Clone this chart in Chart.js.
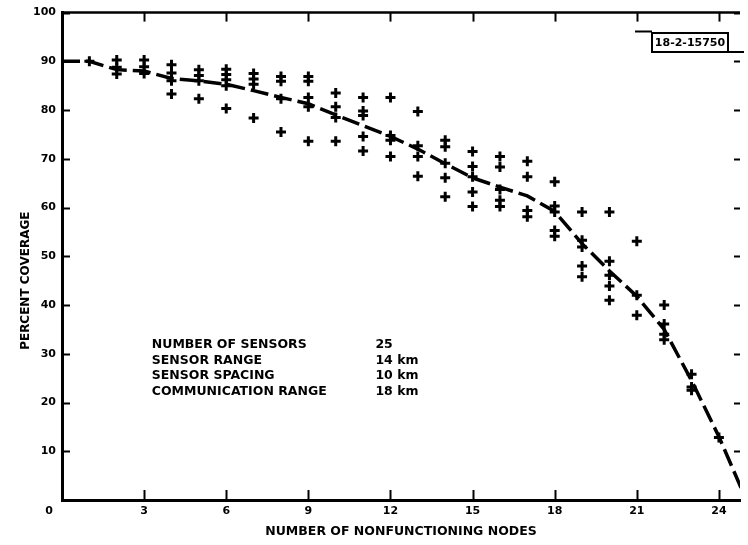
<!DOCTYPE html>
<html><head><meta charset="utf-8">
<script src="https://cdn.jsdelivr.net/npm/chart.js@4/dist/chart.umd.min.js"></script>
<style>html,body{margin:0;padding:0;background:#fff;}#wrap{width:748px;height:545px;}</style>
</head><body><div id="wrap"><canvas id="c" width="748" height="545"></canvas></div>
<script>
// ---- data ----
const xTicks = [3, 6, 9, 12, 15, 18, 21, 24];
const yTicks = [10, 20, 30, 40, 50, 60, 70, 80, 90, 100];
const trialNodes = [1,2,3,4,5,6,7,8,9,10,11,12,13,14,15,16,17,18,19,20,21,22,23,24];
const trialCoverage = [
  [90.0],
  [90.3, 88.8, 87.4],
  [90.3, 88.9, 87.5],
  [89.3, 87.6, 86.0, 83.3],
  [88.3, 87.1, 86.0, 82.3],
  [88.4, 87.3, 86.2, 85.0, 80.3],
  [87.5, 86.4, 85.3, 78.4],
  [86.9, 85.9, 82.3, 75.5],
  [86.9, 85.9, 82.6, 80.7, 73.6],
  [83.5, 80.7, 78.5, 73.6],
  [82.6, 79.8, 78.9, 74.6, 71.6],
  [82.6, 74.8, 73.8, 70.5],
  [79.7, 72.7, 70.5, 66.4],
  [73.8, 72.5, 69.1, 66.1, 62.2],
  [71.5, 68.4, 66.3, 63.2, 60.2],
  [70.5, 68.3, 63.7, 61.5, 60.2],
  [69.5, 66.3, 59.4, 58.1],
  [65.3, 60.3, 59.1, 55.3, 54.1],
  [59.1, 53.3, 51.9, 48.0, 45.8],
  [59.1, 49.0, 46.1, 43.9, 41.0],
  [53.1, 42.0, 37.9],
  [40.0, 36.1, 34.0, 32.9],
  [25.8, 23.2, 22.5],
  [12.8]
];
const meanNodes = [0,1,2,3,4,5,6,7,8,9,10,11,12,13,14,15,16,17,18,19,20,21,22,23,24,25];
const meanCoverage = [90,90,88.3,88,86.5,86,85.3,84,82.6,81.3,79,76.8,74.6,72,69,66.1,64.2,62.4,59.2,52.6,47,41.8,35,24.5,13,0];
const parameterLabels = ['NUMBER OF SENSORS', 'SENSOR RANGE', 'SENSOR SPACING', 'COMMUNICATION RANGE'];
const parameterValues = ['25', '14 km', '10 km', '18 km'];
const stampText = '18-2-15750';
const xTitle = 'NUMBER OF NONFUNCTIONING NODES';
const yTitle = 'PERCENT COVERAGE';

// ---- build datasets ----
const trialPoints = [];
trialNodes.forEach((n, i) => trialCoverage[i].forEach(v => trialPoints.push({x: n, y: v})));
const meanPoints = meanNodes.map((n, i) => ({x: n, y: meanCoverage[i]}));

const FONT = "'DejaVu Sans', 'Liberation Sans', sans-serif";

const framePlugin = {
  id: 'frame',
  afterDraw(chart) {
    const {ctx, chartArea: a, scales: {x, y}} = chart;
    ctx.save();
    ctx.strokeStyle = '#000';
    ctx.fillStyle = '#000';
    ctx.lineWidth = 2.5;
    ctx.beginPath(); ctx.moveTo(a.left, a.top); ctx.lineTo(a.right, a.top); ctx.stroke();
    ctx.lineWidth = 2;
    xTicks.forEach(v => {
      const px = Math.round(x.getPixelForValue(v)) + 0.5;
      ctx.beginPath(); ctx.moveTo(px, a.bottom); ctx.lineTo(px, a.bottom - 10); ctx.stroke();
      ctx.beginPath(); ctx.moveTo(px, a.top); ctx.lineTo(px, a.top + 9); ctx.stroke();
    });
    yTicks.forEach(v => {
      const py = Math.round(y.getPixelForValue(v)) + 0.5;
      ctx.beginPath(); ctx.moveTo(a.left, py); ctx.lineTo(a.left + 8, py); ctx.stroke();
      ctx.beginPath(); ctx.moveTo(a.right, py); ctx.lineTo(a.right - 6, py); ctx.stroke();
    });
    ctx.font = 'bold 11px ' + FONT;
    ctx.textAlign = 'center'; ctx.textBaseline = 'middle';
    ctx.fillText('0', a.left - 13, a.bottom + 11);
    // y axis title (rotated), centred a little below the axis middle as in the reference
    ctx.save();
    ctx.translate(26, y.getPixelForValue(45));
    ctx.rotate(-Math.PI / 2);
    ctx.font = 'bold 12px ' + FONT;
    ctx.fillText(yTitle, 0, 0);
    ctx.restore();
    ctx.font = 'bold 12.5px ' + FONT;
    ctx.textAlign = 'left';
    parameterLabels.forEach((t, i) => {
      const py = y.getPixelForValue(31.8 - i * 3.2);
      ctx.fillText(t, x.getPixelForValue(3.28), py);
      ctx.fillText(parameterValues[i], x.getPixelForValue(11.45), py);
    });
    ctx.lineWidth = 2;
    ctx.strokeRect(652, 33, 76, 19);
    ctx.beginPath(); ctx.moveTo(635, 31.5); ctx.lineTo(652, 31.5); ctx.stroke();
    ctx.beginPath(); ctx.moveTo(728, 52); ctx.lineTo(744, 52); ctx.stroke();
    ctx.font = 'bold 11px ' + FONT;
    ctx.textAlign = 'center';
    ctx.fillText(stampText, 690, 43);
    ctx.restore();
  }
};

new Chart(document.getElementById('c'), {
  type: 'scatter',
  data: {
    datasets: [
      {
        type: 'line',
        data: meanPoints,
        borderColor: '#000',
        borderWidth: 3.5,
        borderDash: [18, 6],
        pointRadius: 0,
        fill: false,
        tension: 0
      },
      {
        data: trialPoints,
        pointStyle: 'cross',
        pointRadius: 5,
        borderColor: '#000',
        backgroundColor: '#000',
        pointBorderWidth: 3,
        borderWidth: 3
      }
    ]
  },
  options: {
    responsive: false,
    animation: false,
    devicePixelRatio: 1,
    layout: {padding: {top: 12, right: 0, left: 0, bottom: 0}},
    plugins: {legend: {display: false}, tooltip: {enabled: false}},
    scales: {
      x: {
        type: 'linear', min: 0, max: 24.77,
        afterBuildTicks: s => { s.ticks = xTicks.map(v => ({value: v})); },
        afterFit: s => { s.height = 45; },
        grid: {display: false, drawTicks: false},
        border: {display: true, color: '#000', width: 3},
        ticks: {color: '#000', font: {family: FONT, weight: 'bold', size: 11}, padding: 5, maxRotation: 0},
        title: {display: true, text: xTitle, color: '#000', font: {family: FONT, weight: 'bold', size: 12.5}, padding: {top: 0, bottom: 6}}
      },
      y: {
        type: 'linear', min: 0, max: 100,
        afterBuildTicks: s => { s.ticks = yTicks.map(v => ({value: v})); },
        afterFit: s => { s.width = 62; },
        grid: {display: false, drawTicks: false},
        border: {display: true, color: '#000', width: 3},
        ticks: {color: '#000', font: {family: FONT, weight: 'bold', size: 11}, padding: 6},
        title: {display: false}
      }
    }
  },
  plugins: [framePlugin]
});
</script></body></html>
